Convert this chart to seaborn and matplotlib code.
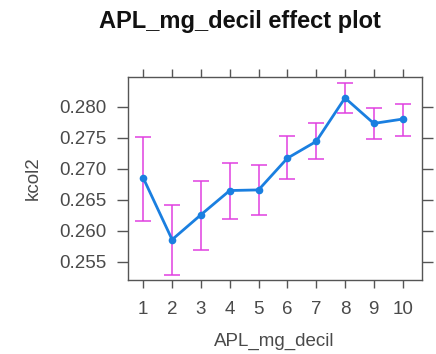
import matplotlib
matplotlib.use("Agg")
import matplotlib.pyplot as plt
import seaborn as sns
import pandas as pd

decile = [1, 2, 3, 4, 5, 6, 7, 8, 9, 10]
fit = [0.2685, 0.2586, 0.2626, 0.2665, 0.2666, 0.2717, 0.2744, 0.2814, 0.2773, 0.2780]
lower = [0.2616, 0.2529, 0.2570, 0.2619, 0.2626, 0.2684, 0.2716, 0.2789, 0.2748, 0.2753]
upper = [0.2751, 0.2642, 0.2681, 0.2709, 0.2706, 0.2753, 0.2773, 0.2838, 0.2798, 0.2805]
yticks = [0.255, 0.260, 0.265, 0.270, 0.275, 0.280]

df = pd.DataFrame({"APL_mg_decil": decile, "kcol2": fit, "lower": lower, "upper": upper})

sns.set_style("white")
plt.rcParams["font.family"] = ["Liberation Sans", "DejaVu Sans"]

fig = plt.figure(figsize=(4.36, 3.54), dpi=100)
ax = fig.add_axes([0.293, 0.209, 0.674, 0.574])

# confidence bars
ax.errorbar(df["APL_mg_decil"], df["kcol2"],
            yerr=[df["kcol2"] - df["lower"], df["upper"] - df["kcol2"]],
            fmt="none", ecolor="#e040e0", elinewidth=1.1, capsize=5.5, capthick=1.1,
            zorder=2)

# fitted effect line
sns.lineplot(data=df, x="APL_mg_decil", y="kcol2", ax=ax, color="#1a7fe0",
             linewidth=2.0, marker="o", markersize=5.5, markeredgewidth=0,
             zorder=3)

ax.set_xlim(0.46, 10.66)
ax.set_ylim(0.2521, 0.2848)
ax.set_xticks(decile)
ax.set_xticklabels([str(d) for d in decile])
ax.set_yticks(yticks)
ax.set_yticklabels([f"{t:.3f}" for t in yticks])

for s in ax.spines.values():
    s.set_color("#555555")
    s.set_linewidth(1.0)
    s.set_visible(True)

ax.tick_params(axis="both", direction="out", length=6, width=1.0, color="#555555",
               labelsize=13.5, labelcolor="#4a4a4a")
ax.tick_params(axis="x", pad=9)
ax.tick_params(axis="y", length=8, pad=7)
ax.tick_params(top=True, right=True, labeltop=False, labelright=False, bottom=True, left=True)

ax.set_xlabel("APL_mg_decil", fontsize=13.5, color="#4a4a4a", labelpad=11)
ax.set_ylabel("kcol2", fontsize=13.5, color="#4a4a4a", labelpad=13)

fig.text(0.55, 0.938, "APL_mg_decil effect plot", ha="center", va="center",
         fontsize=17, fontweight="bold", color="#111111")

fig.savefig("out.png", dpi=100)
